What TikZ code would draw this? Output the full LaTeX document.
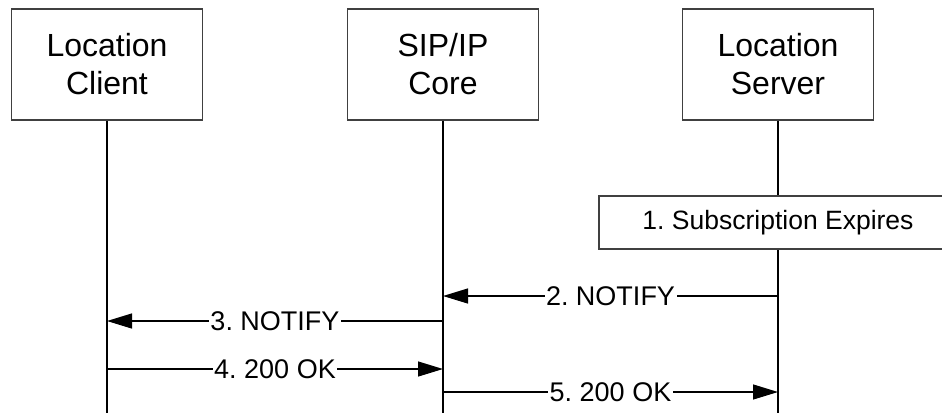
\documentclass[tikz,border=0pt]{standalone}
\usepackage{fontspec}
\setmainfont{Liberation Sans}
\usetikzlibrary{arrows.meta}
\frenchspacing
\begin{document}
\begin{tikzpicture}[x=1pt,y=-1pt,
  entity/.style={draw=black!75,line width=1.3pt,fill=white,minimum width=191pt,minimum height=111pt,align=center,font=\fontsize{32}{38}\selectfont,inner sep=0pt},
  lifeline/.style={line width=1.8pt},
  msg/.style={line width=1.3pt,-{Triangle[length=25pt,width=15pt]}},
  lbl/.style={fill=white,inner sep=1.5pt,font=\fontsize{27}{32}\selectfont},
  action/.style={draw=black!75,line width=1.3pt,fill=white,minimum width=358pt,minimum height=53pt,font=\fontsize{26.5}{32}\selectfont,inner sep=0pt}]
\useasboundingbox (0,0) rectangle (942,413);
\node[entity] (lc) at (107,64.5) {Location\\Client};
\node[entity] (sip) at (443,64.5) {SIP/IP\\Core};
\node[entity] (ls) at (778,64.5) {Location\\Server};
\coordinate (lcb) at (107,413);
\coordinate (sipb) at (443,413);
\coordinate (lsb) at (778,413);
\draw[lifeline] (lc.south) -- (lcb);
\draw[lifeline] (sip.south) -- (sipb);
\draw[lifeline] (ls.south) -- (lsb);
\node[action] (sub) at (778,222.5) {1. Subscription Expires};
% messages
\coordinate (m2s) at (778,296); \coordinate (m2e) at (443,296);
\coordinate (m3s) at (443,321); \coordinate (m3e) at (107,321);
\coordinate (m4s) at (107,369); \coordinate (m4e) at (443,369);
\coordinate (m5s) at (443,392); \coordinate (m5e) at (778,392);
\draw[msg] (m2s) -- node[lbl] {2. NOTIFY} (m2e);
\draw[msg] (m3s) -- node[lbl] {3. NOTIFY} (m3e);
\draw[msg] (m4s) -- node[lbl] {4. 200 OK} (m4e);
\draw[msg] (m5s) -- node[lbl] {5. 200 OK} (m5e);
\end{tikzpicture}
\end{document}
